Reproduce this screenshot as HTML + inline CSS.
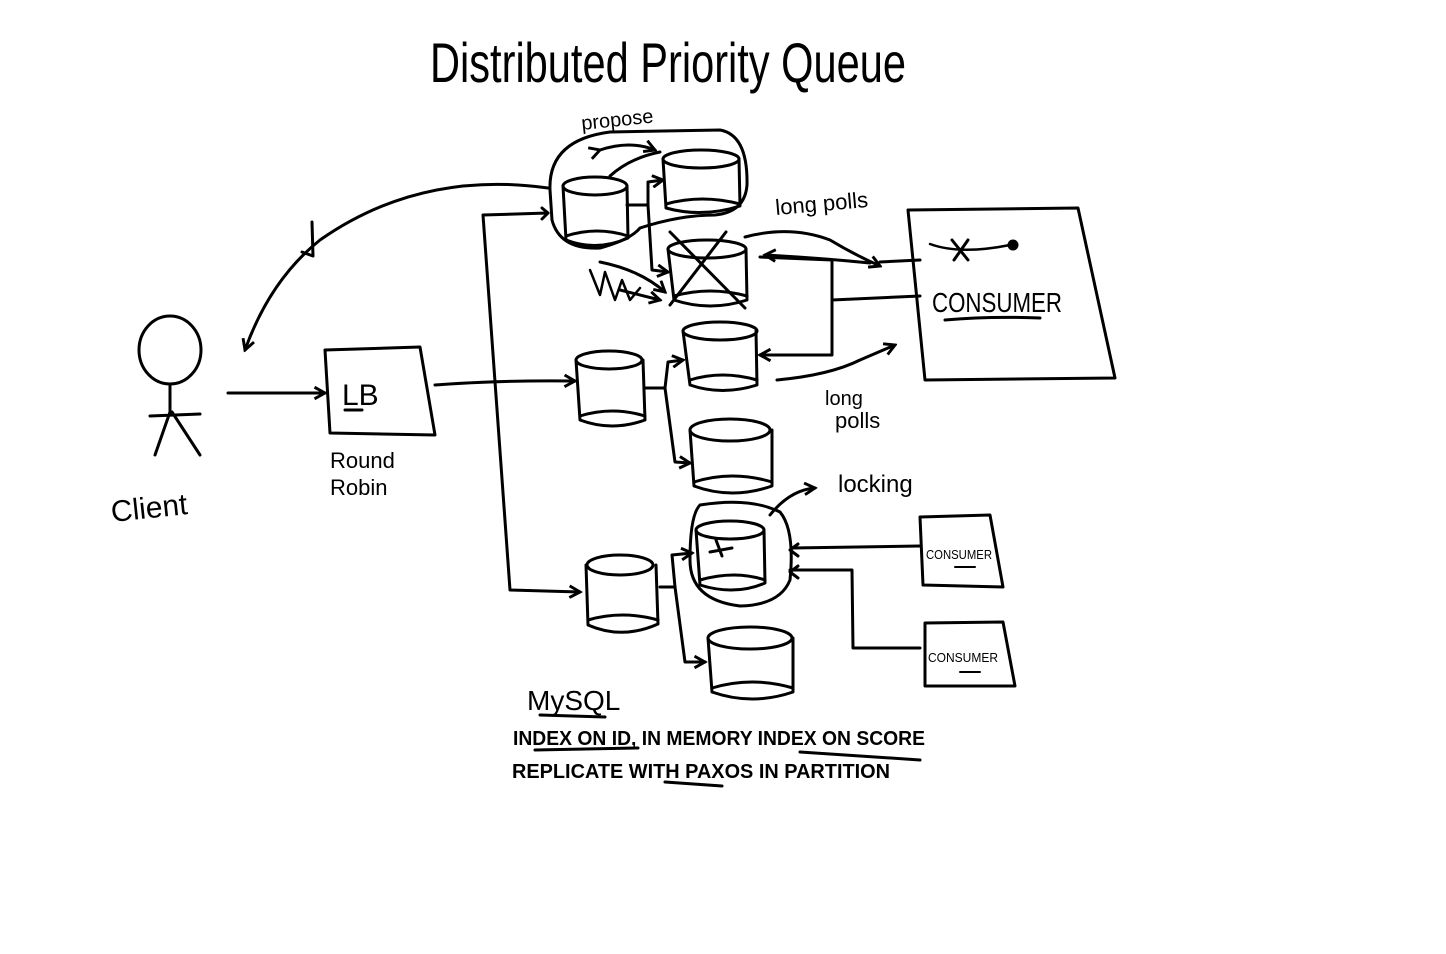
<!DOCTYPE html>
<html><head><meta charset="utf-8"><style>
html,body{margin:0;padding:0;background:#fff;}
svg{display:block}
text{font-family:"Liberation Sans",sans-serif;fill:#000}
</style></head><body>
<svg width="1446" height="954" viewBox="0 0 1446 954" xmlns="http://www.w3.org/2000/svg">
<defs>
<marker id="a" viewBox="0 0 12 12" refX="10" refY="6" markerWidth="14" markerHeight="14" orient="auto" markerUnits="userSpaceOnUse">
<path d="M1,1 L10,6 L1,11" fill="none" stroke="#000" stroke-width="2.5"/></marker>
</defs>
<text x="430" y="82" font-size="56" textLength="476" lengthAdjust="spacingAndGlyphs" font-weight="300">Distributed Priority Queue</text>

<g fill="none" stroke="#000" stroke-width="3" stroke-linecap="round" stroke-linejoin="round">
<ellipse cx="595" cy="186" rx="32" ry="9"/><path d="M563,186 L566,240 Q597,252 628,238 L627,186"/><path d="M566,236 Q597,226 628,236"/>
<ellipse cx="701" cy="159" rx="38" ry="9"/><path d="M663,159 L666,208 Q702,218 740,206 L739,159"/><path d="M666,204 Q702,194 740,204"/>
<ellipse cx="707" cy="249" rx="39" ry="9"/><path d="M668,249 L674,300 Q710,312 747,300 L746,249"/><path d="M674,296 Q710,286 747,296"/>
<path d="M670,232 L745,308"/><path d="M726,232 L670,305"/>
<ellipse cx="720" cy="331" rx="37" ry="9"/><path d="M683,331 L690,385 Q722,396 757,385 L756,331"/><path d="M690,380 Q722,370 757,380"/>
<ellipse cx="609" cy="360" rx="33" ry="9"/><path d="M576,360 L580,420 Q612,432 645,420 L643,360"/><path d="M580,416 Q612,406 645,416"/>
<ellipse cx="730" cy="430" rx="40" ry="11"/><path d="M690,430 L694,486 Q732,500 772,486 L772,430"/><path d="M694,482 Q732,470 772,482"/>
<ellipse cx="730" cy="530" rx="34" ry="9"/><path d="M696,530 L700,585 Q735,596 765,583 L764,530"/><path d="M700,580 Q735,570 765,580"/>
<path d="M716,540 L722,556 M710,552 L732,548"/>
<ellipse cx="620" cy="565" rx="33" ry="10"/><path d="M586,565 L588,625 Q622,640 658,624 L656,565"/><path d="M588,620 Q622,610 658,620"/>
<ellipse cx="750" cy="638" rx="42" ry="11"/><path d="M708,638 L712,692 Q752,706 793,692 L793,638"/><path d="M712,688 Q752,676 793,688"/>

<path d="M550,190 Q548,140 610,132 L720,130 Q748,135 747,185 Q745,212 715,215 Q680,215 640,228 Q630,240 600,248 Q560,250 552,220 Z"/>
<path d="M600,150 Q630,140 655,150" marker-start="url(#a)" marker-end="url(#a)"/>
<path d="M610,176 Q630,158 660,152" />

<ellipse cx="170" cy="350" rx="31" ry="34"/>
<path d="M170,384 L170,412 M150,416 L200,414 M170,412 L155,455 M172,412 L200,455"/>
<path d="M312,222 L313,256 L302,252"/>

<path d="M228,393 L325,393" marker-end="url(#a)"/>
<path d="M325,350 L420,347 L435,435 L330,433 Z"/>
<path d="M345,410 L362,410"/>
<path d="M435,385 Q500,380 575,381" marker-end="url(#a)"/>
<path d="M548,213 L483,215 L510,590 L580,592" marker-end="url(#a)"/>
<path d="M548,213 l-6,-5 M548,213 l-6,6"/>
<path d="M548,188 Q420,170 320,240 Q270,280 245,350" marker-end="url(#a)"/>

<path d="M627,205 L648,205 L648,182 L663,180" marker-end="url(#a)"/>
<path d="M648,205 L652,270 L668,272" marker-end="url(#a)"/>
<path d="M590,270 L600,295 L605,272 L615,300 L622,280 L630,300 L640,288" stroke-width="2.5"/>
<path d="M600,262 Q640,270 665,292" marker-end="url(#a)"/>
<path d="M620,290 L660,300" marker-end="url(#a)"/>
<path d="M645,388 L665,388 L668,362 L683,360" marker-end="url(#a)"/>
<path d="M665,388 L675,462 L690,463" marker-end="url(#a)"/>
<path d="M660,587 L675,587 L672,555 L692,553" marker-end="url(#a)"/>
<path d="M675,587 L685,662 L705,662" marker-end="url(#a)"/>
<path d="M700,505 Q690,515 690,560 Q690,600 740,606 Q780,605 790,580 Q795,530 780,512 Q750,497 700,505 Z"/>
<path d="M770,515 Q790,490 815,488" marker-end="url(#a)"/>

<path d="M908,210 L1078,208 L1115,378 L925,380 Z"/>
<path d="M945,320 Q990,316 1040,318"/>
<path d="M930,244 Q960,255 1010,245" stroke-width="2.5"/>
<path d="M952,240 L968,260 M968,240 L954,260"/>
<circle cx="1013" cy="245" r="4" fill="#000"/>
<path d="M745,237 Q790,225 830,240 Q855,255 880,266" marker-end="url(#a)"/>
<path d="M880,262 L920,260"/>
<path d="M870,263 Q820,258 765,255" marker-end="url(#a)"/>
<path d="M920,296 L832,300 L832,260 L760,257"/>
<path d="M832,300 L832,355 L760,355" marker-end="url(#a)"/>
<path d="M777,380 Q830,375 860,360 L895,345" marker-end="url(#a)"/>

<path d="M920,517 L990,515 L1003,587 L923,585 Z"/>
<path d="M925,623 L1003,622 L1015,686 L925,686 Z"/>
<path d="M792,548 L920,546" />
<path d="M790,550 l8,-6 M790,550 l8,6"/>
<path d="M790,570 L852,570 L853,648 L920,648"/>
<path d="M790,572 l8,-6 M790,572 l8,6"/>
<path d="M955,567 L975,567 M960,672 L980,672" stroke-width="2"/>

<path d="M540,715 L605,717"/>
<path d="M535,750 L638,748 M800,752 L920,760 M665,782 L722,786"/>
</g>

<text x="582" y="130" font-size="20" transform="rotate(-6 582 130)">propose</text>
<text x="776" y="215" font-size="22" transform="rotate(-5 776 215)">long polls</text>
<text x="825" y="405" font-size="20">long</text>
<text x="835" y="428" font-size="22">polls</text>
<text x="838" y="492" font-size="24">locking</text>
<text x="112" y="522" font-size="30" transform="rotate(-6 112 522)">Client</text>
<text x="342" y="405" font-size="30">LB</text>
<text x="330" y="468" font-size="22">Round</text>
<text x="330" y="495" font-size="22">Robin</text>
<text x="932" y="312" font-size="28" textLength="130" lengthAdjust="spacingAndGlyphs">CONSUMER</text>
<text x="926" y="559" font-size="13" textLength="66" lengthAdjust="spacingAndGlyphs">CONSUMER</text>
<text x="928" y="662" font-size="13" textLength="70" lengthAdjust="spacingAndGlyphs">CONSUMER</text>
<text x="527" y="710" font-size="28">MySQL</text>
<text x="513" y="745" font-size="20" textLength="412" lengthAdjust="spacingAndGlyphs" font-weight="bold">INDEX ON ID, IN MEMORY INDEX ON SCORE</text>
<text x="512" y="778" font-size="20" textLength="378" lengthAdjust="spacingAndGlyphs" font-weight="bold">REPLICATE WITH PAXOS IN PARTITION</text>
</svg>
</body></html>
